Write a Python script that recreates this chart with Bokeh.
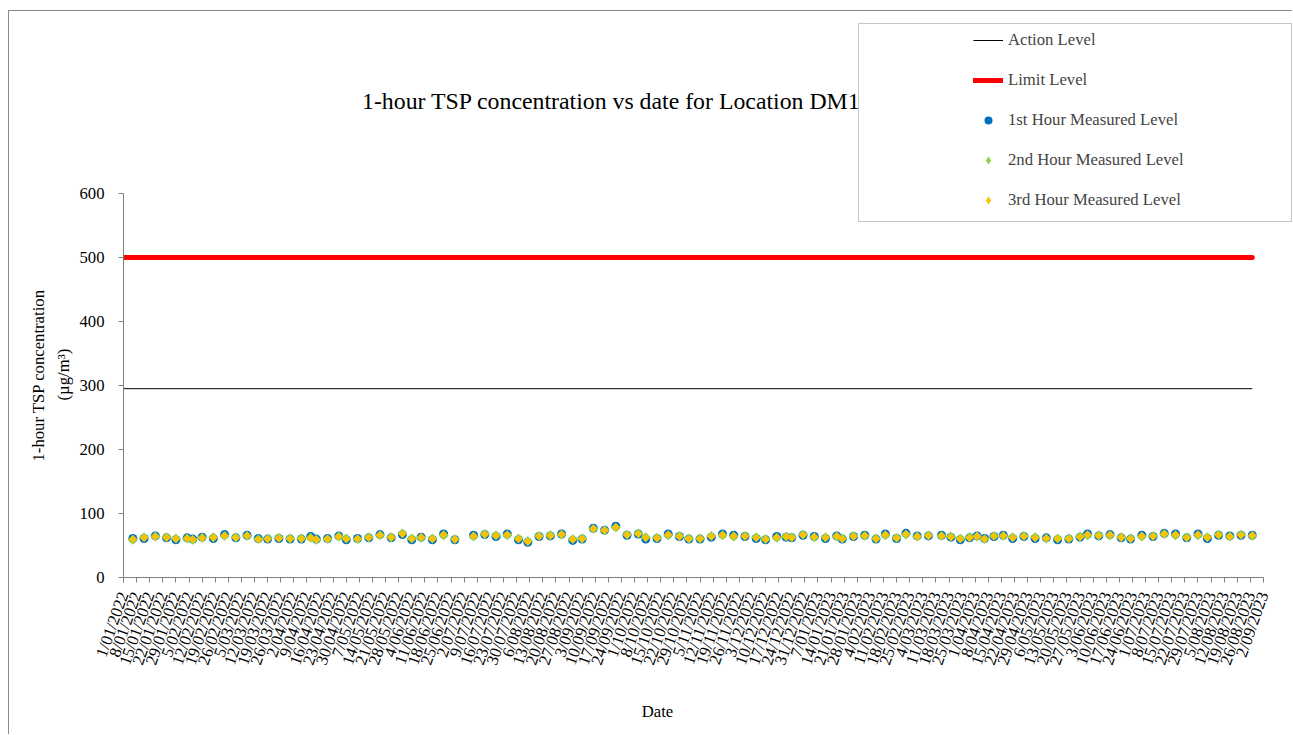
import numpy as np
import pandas as pd
from bokeh.plotting import figure
from bokeh.models import (Range1d, FixedTicker, Legend, LegendItem, BoxAnnotation, ColumnDataSource,
                          Label, Title)
from bokeh.embed import file_html
from bokeh.resources import INLINE

# ---------------- data ----------------
axis_start = "2022-01-01"
axis_end = "2023-09-02"

sample_dates = [
    "2022-01-06", "2022-01-12", "2022-01-18", "2022-01-24", "2022-01-29", "2022-02-04", "2022-02-07",
    "2022-02-12", "2022-02-18", "2022-02-24", "2022-03-02", "2022-03-08", "2022-03-14", "2022-03-19",
    "2022-03-25", "2022-03-31", "2022-04-06", "2022-04-11", "2022-04-14", "2022-04-20", "2022-04-26",
    "2022-04-30", "2022-05-06", "2022-05-12", "2022-05-18", "2022-05-24", "2022-05-30",
    "2022-06-04", "2022-06-09", "2022-06-15", "2022-06-21", "2022-06-27", "2022-07-07", "2022-07-13",
    "2022-07-19", "2022-07-25", "2022-07-31", "2022-08-05", "2022-08-11", "2022-08-17", "2022-08-23",
    "2022-08-29", "2022-09-03", "2022-09-09", "2022-09-15", "2022-09-21", "2022-09-27", "2022-10-03",
    "2022-10-07", "2022-10-13", "2022-10-19", "2022-10-25", "2022-10-30",
    "2022-11-05", "2022-11-11", "2022-11-17", "2022-11-23", "2022-11-29", "2022-12-05", "2022-12-10",
    "2022-12-16", "2022-12-21", "2022-12-24", "2022-12-30", "2023-01-05", "2023-01-11", "2023-01-17",
    "2023-01-20", "2023-01-26", "2023-02-01", "2023-02-07", "2023-02-12", "2023-02-18", "2023-02-23",
    "2023-03-01", "2023-03-07", "2023-03-14", "2023-03-19", "2023-03-24", "2023-03-29",
    "2023-04-02", "2023-04-06", "2023-04-11", "2023-04-16", "2023-04-21", "2023-04-27", "2023-05-03",
    "2023-05-09", "2023-05-15", "2023-05-21", "2023-05-27", "2023-05-31", "2023-06-06", "2023-06-12",
    "2023-06-18", "2023-06-23", "2023-06-29", "2023-07-05", "2023-07-11", "2023-07-17", "2023-07-23",
    "2023-07-29", "2023-08-03", "2023-08-09", "2023-08-15", "2023-08-21", "2023-08-27",
]

hour1 = [
    61, 61, 65, 62, 59, 62, 60, 63, 61, 67, 62, 66, 61, 60, 61, 60, 60, 64, 60, 61, 65, 59, 61, 62, 67, 62, 67,
    59, 63, 59, 68, 59, 66, 67, 64, 68, 59, 55, 64, 65, 68, 58, 60, 77, 74, 80, 66, 68, 60, 61, 68, 64, 60,
    60, 63, 68, 66, 64, 61, 59, 64, 63, 62, 66, 64, 61, 65, 60, 64, 66, 60, 68, 61, 69, 65, 65, 66, 63, 59, 62,
    65, 61, 64, 66, 61, 64, 61, 62, 59, 60, 63, 68, 65, 67, 62, 60, 66, 64, 69, 68, 62, 68, 61, 66, 65, 66, 66,
]
hour2 = [
    59, 63, 64, 63, 61, 61, 59, 62, 63, 65, 63, 65, 60, 61, 62, 61, 61, 62, 59, 60, 64, 61, 60, 63, 66, 63, 69,
    61, 62, 61, 66, 60, 64, 68, 66, 66, 61, 57, 65, 66, 67, 60, 61, 76, 74, 78, 67, 69, 63, 62, 66, 65, 61,
    61, 65, 66, 64, 65, 63, 60, 62, 64, 63, 67, 63, 63, 64, 61, 65, 65, 61, 66, 62, 67, 64, 66, 65, 64, 61, 63,
    64, 60, 65, 65, 63, 65, 63, 61, 61, 61, 64, 66, 66, 66, 63, 61, 64, 65, 68, 66, 63, 66, 63, 67, 64, 67, 65,
]
hour3 = [
    60, 62, 64, 62.5, 60.5, 61.5, 59.5, 61.5, 62, 65.5, 62, 65.5, 59.5, 60, 61, 60.5, 60.5, 62, 59.5, 60.5,
    64, 60, 60.5, 62, 66, 62.5, 68,
    60.5, 63, 60, 67, 59.5, 65, 67.5, 65, 67, 60, 56, 64, 65, 67.5, 59.5, 60.5, 76, 73.5, 78.5, 66.5, 68,
    62, 61.5, 67, 64, 60.5,
    60.5, 64, 66.5, 65, 64, 62, 59.5, 63, 64, 62, 66.5, 63.5, 62, 64.5, 60.5, 64, 65.5, 60.5, 67, 61.5, 68,
    64, 65, 65, 63, 60, 62,
    64.5, 60.5, 64.5, 65.5, 62, 64, 62, 61.5, 60.5, 60.5, 63, 67, 65, 66.5, 62.5, 60.5, 65, 64, 68, 67, 62,
    67, 62.5, 66, 64, 66, 66,
]

action_level = 295
limit_level = 500
y_ticks = [0, 100, 200, 300, 400, 500, 600]
y_max = 600

title_text = "1-hour TSP concentration vs date for Location DM1"
x_title = "Date"
y_title_line1 = "1-hour TSP concentration"
y_title_line2 = "(µg/m³)"

t0 = pd.Timestamp(axis_start)
tick_dates = pd.date_range(axis_start, axis_end, freq="7D")
tick_labels = [f"{d.day}/{d.month:02d}/{d.year}" for d in tick_dates]
tick_pos = [int((d - t0).days) for d in tick_dates]
x_days = [int((pd.Timestamp(d) - t0).days) for d in sample_dates]
x_end = int((pd.Timestamp(axis_end) - t0).days)

src = ColumnDataSource(dict(x=x_days, h1=hour1, h2=hour2, h3=hour3))
line_x = [0, x_days[-1]]

FONT = "Liberation Serif"
FS = "16.7px"

# ---------------- layout (canvas pixels) ----------------
W, H = 1284, 724
FL, FR, FT, FB = 114, 1284, 5, 566          # frame edges (canvas px)
AX_RIGHT_PX, AX_TOP_PX = 1254, 182           # where x_end and y_max fall
px_per_day = (AX_RIGHT_PX - FL) / x_end
px_per_unit = (FB - AX_TOP_PX) / y_max
x_hi = (FR - FL) / px_per_day
y_hi = (FB - FT) / px_per_unit

p = figure(width=W, height=H, x_range=Range1d(0, x_hi), y_range=Range1d(0, y_hi),
           output_backend="svg", toolbar_location=None,
           min_border_left=FL, min_border_right=W - FR, min_border_top=FT, min_border_bottom=H - FB)
p.margin = (10, 0, 0, 8)
p.styles = {"border-top": "1px solid #8a8a8a", "border-left": "1px solid #8a8a8a"}
p.outline_line_color = None
p.grid.visible = False
p.background_fill_color = "white"
p.border_fill_color = "white"

# axes
p.xaxis.ticker = FixedTicker(ticks=tick_pos)
p.xaxis.major_label_overrides = {pos: lab for pos, lab in zip(tick_pos, tick_labels)}
p.xaxis.major_label_orientation = 1.23
p.xaxis.bounds = (0, x_end)
p.yaxis.ticker = FixedTicker(ticks=y_ticks)
p.yaxis.bounds = (0, y_max)
for ax in (p.xaxis[0], p.yaxis[0]):
    ax.major_label_text_font = FONT
    ax.major_label_text_font_size = FS
    ax.major_label_text_color = "black"
    ax.minor_tick_line_color = None
    ax.major_tick_in = 0
    ax.major_tick_out = 5
    ax.axis_line_color = "#808080"
    ax.major_tick_line_color = "#808080"
p.xaxis.major_label_standoff = 10
p.yaxis.major_label_standoff = 14

# y title: two stacked side titles (not clipped to the frame)
p.add_layout(Title(text=y_title_line2, align="left", offset=177, standoff=8,
                   text_font=FONT, text_font_size=FS, text_font_style="normal", text_color="black"), "left")
p.add_layout(Title(text=y_title_line1, align="left", offset=116, standoff=0,
                   text_font=FONT, text_font_size=FS, text_font_style="normal", text_color="black"), "left")

# chart title (inside the enlarged frame)
p.add_layout(Label(x=601, y=88, x_units="canvas", y_units="canvas", text=title_text,
                   text_font=FONT, text_font_size="23.8px", text_align="center", text_baseline="middle",
                   text_color="black"))
# x title in the bottom panel (not clipped)
p.add_layout(Label(x=647, y=699, x_units="canvas", y_units="canvas", text=x_title,
                   text_font=FONT, text_font_size=FS, text_align="center", text_baseline="middle",
                   text_color="black"), "below")

# level lines
r_action = p.line(line_x, [action_level, action_level], line_color="black", line_width=1)
r_limit = p.line(line_x, [limit_level, limit_level], line_color="#FF0000", line_width=5, line_cap="round")

# measurements
r1 = p.scatter("x", "h1", source=src, marker="circle", size=9, fill_color="#0070C0", line_color=None)
r2 = p.scatter("x", "h2", source=src, marker="square", angle=0.785398, size=7, fill_color="#92D050", line_color=None)
r3 = p.scatter("x", "h3", source=src, marker="square", angle=0.785398, size=5.5, fill_color="#FFC000", line_color=None)

# legend-only diamond proxies (legend glyphs ignore marker rotation)
nan = np.array([np.nan])
g2 = p.scatter(x=nan, y=nan, marker="diamond", size=11, fill_color="#92D050", line_color=None)
g3 = p.scatter(x=nan, y=nan, marker="diamond", size=11, fill_color="#FFC000", line_color=None)

legend = Legend(items=[
    LegendItem(label="Action Level", renderers=[r_action]),
    LegendItem(label="Limit Level", renderers=[r_limit]),
    LegendItem(label="1st Hour Measured Level", renderers=[r1]),
    LegendItem(label="2nd Hour Measured Level", renderers=[g2]),
    LegendItem(label="3rd Hour Measured Level", renderers=[g3]),
], location=(840, 357))
legend.border_line_alpha = 0
legend.background_fill_alpha = 0
legend.padding = 10
legend.spacing = 20
legend.glyph_height = 20
legend.glyph_width = 30
legend.label_height = 20
legend.label_standoff = 5
legend.margin = 0
legend.label_text_font = FONT
legend.label_text_font_size = FS
p.add_layout(legend)

# legend frame
p.add_layout(BoxAnnotation(left=848, right=1281, top=11, bottom=209,
                           left_units="canvas", right_units="canvas", top_units="canvas", bottom_units="canvas",
                           fill_alpha=0, line_color="#404040", line_width=1, level="overlay"))

open("out.html", "w").write(file_html(p, INLINE))
